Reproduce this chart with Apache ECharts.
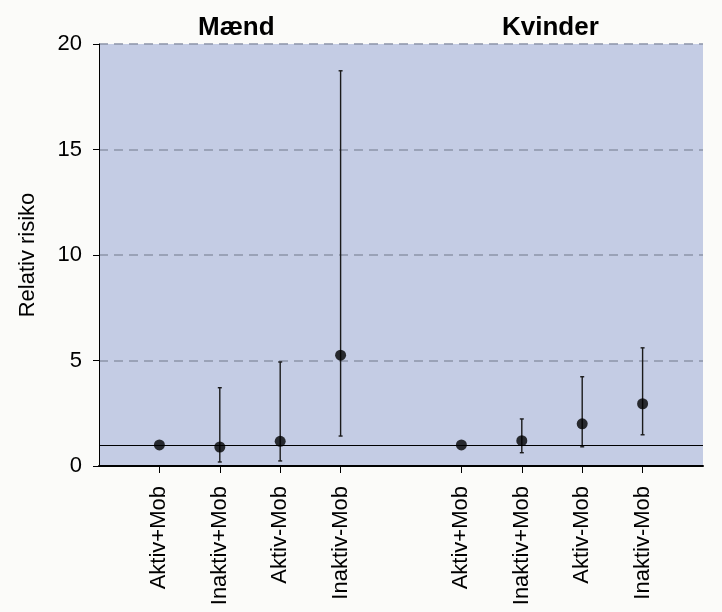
<!DOCTYPE html>
<html>
<head>
<meta charset="utf-8">
<script src="https://cdn.jsdelivr.net/npm/echarts@6/dist/echarts.min.js"></script>
<style>
html,body{margin:0;padding:0;background:#fbfbf9;}
#chart{width:722px;height:612px;}
</style>
</head>
<body>
<div id="chart"></div>
<script>
const groups = ['Mænd', 'Kvinder'];
const categories = ['Aktiv+Mob', 'Inaktiv+Mob', 'Aktiv-Mob', 'Inaktiv-Mob'];
const maendRR = [1, 0.9, 1.17, 5.25];
const maendLow = [null, 0.19, 0.24, 1.42];
const maendHigh = [null, 3.71, 4.93, 18.73];
const kvinderRR = [1, 1.2, 2.0, 2.95];
const kvinderLow = [null, 0.63, 0.91, 1.48];
const kvinderHigh = [null, 2.23, 4.23, 5.6];
const yTicks = [0, 5, 10, 15, 20];
const refValue = 1;

const rrByGroup = [maendRR, kvinderRR];
const lowByGroup = [maendLow, kvinderLow];
const highByGroup = [maendHigh, kvinderHigh];

// position of category i within group g on the x value axis (1..4, 6..9)
const pos = (g, i) => g * (categories.length + 1) + i + 1;

const points = [];
const bars = [];
const labelAt = {};
groups.forEach((g, gi) => {
  categories.forEach((c, ci) => {
    const x = pos(gi, ci);
    labelAt[x] = c;
    points.push([x, rrByGroup[gi][ci]]);
    if (lowByGroup[gi][ci] != null) bars.push([x, lowByGroup[gi][ci], highByGroup[gi][ci]]);
  });
});
const tickPositions = Object.keys(labelAt).map(Number);

const chart = echarts.init(document.getElementById('chart'), null, {renderer: 'canvas'});
const font = 'Liberation Sans, Arial, sans-serif';

chart.setOption({
  backgroundColor: '#fbfbf9',
  animation: false,
  title: [
    {text: groups[0], left: 193, top: 10, textStyle: {fontFamily: font, fontSize: 26, fontWeight: 'bold', color: '#000'}},
    {text: groups[1], left: 497, top: 10, textStyle: {fontFamily: font, fontSize: 26, fontWeight: 'bold', color: '#000'}}
  ],
  grid: {left: 99, right: 19, top: 44, bottom: 146, show: true, backgroundColor: '#c4cce4', borderWidth: 0},
  xAxis: {
    type: 'value', min: 0, max: 10, interval: 1,
    axisLine: {show: true, onZero: false, lineStyle: {color: '#000', width: 2}},
    axisTick: {show: true, customValues: tickPositions, length: 7, lineStyle: {color: '#000', width: 1}},
    axisLabel: {
      customValues: tickPositions, rotate: 90, margin: 20,
      fontFamily: font, fontSize: 22, color: '#000',
      formatter: v => labelAt[v] || ''
    },
    splitLine: {show: false}
  },
  yAxis: {
    type: 'value', min: yTicks[0], max: yTicks[yTicks.length - 1], interval: 5,
    name: 'Relativ risiko', nameLocation: 'middle', nameGap: 60,
    nameTextStyle: {fontFamily: font, fontSize: 22, color: '#000'},
    axisLine: {show: true, lineStyle: {color: '#000', width: 1}},
    axisTick: {show: true, length: 6, lineStyle: {color: '#000'}},
    axisLabel: {margin: 17, fontFamily: font, fontSize: 22, color: '#000'},
    splitLine: {show: true, lineStyle: {color: '#8c94a8', type: [9, 6], width: 1.5}}
  },
  series: [
    {
      type: 'custom',
      data: bars,
      z: 3,
      renderItem: function (params, api) {
        const x = api.value(0);
        const lo = api.coord([x, api.value(1)]);
        const hi = api.coord([x, api.value(2)]);
        const cw = 2;
        const style = {stroke: '#1a1a1a', lineWidth: 1.4};
        return {
          type: 'group',
          children: [
            {type: 'line', shape: {x1: lo[0], y1: lo[1], x2: hi[0], y2: hi[1]}, style},
            {type: 'line', shape: {x1: lo[0] - cw, y1: lo[1], x2: lo[0] + cw, y2: lo[1]}, style},
            {type: 'line', shape: {x1: hi[0] - cw, y1: hi[1], x2: hi[0] + cw, y2: hi[1]}, style}
          ]
        };
      },
      markLine: {
        silent: true, symbol: 'none', label: {show: false},
        lineStyle: {color: '#000', width: 1.2, type: 'solid'},
        data: [{yAxis: refValue}]
      }
    },
    {
      type: 'scatter', data: points, symbol: 'circle', symbolSize: 11, z: 4,
      itemStyle: {color: '#000'}
    }
  ]
});
</script>
</body>
</html>
